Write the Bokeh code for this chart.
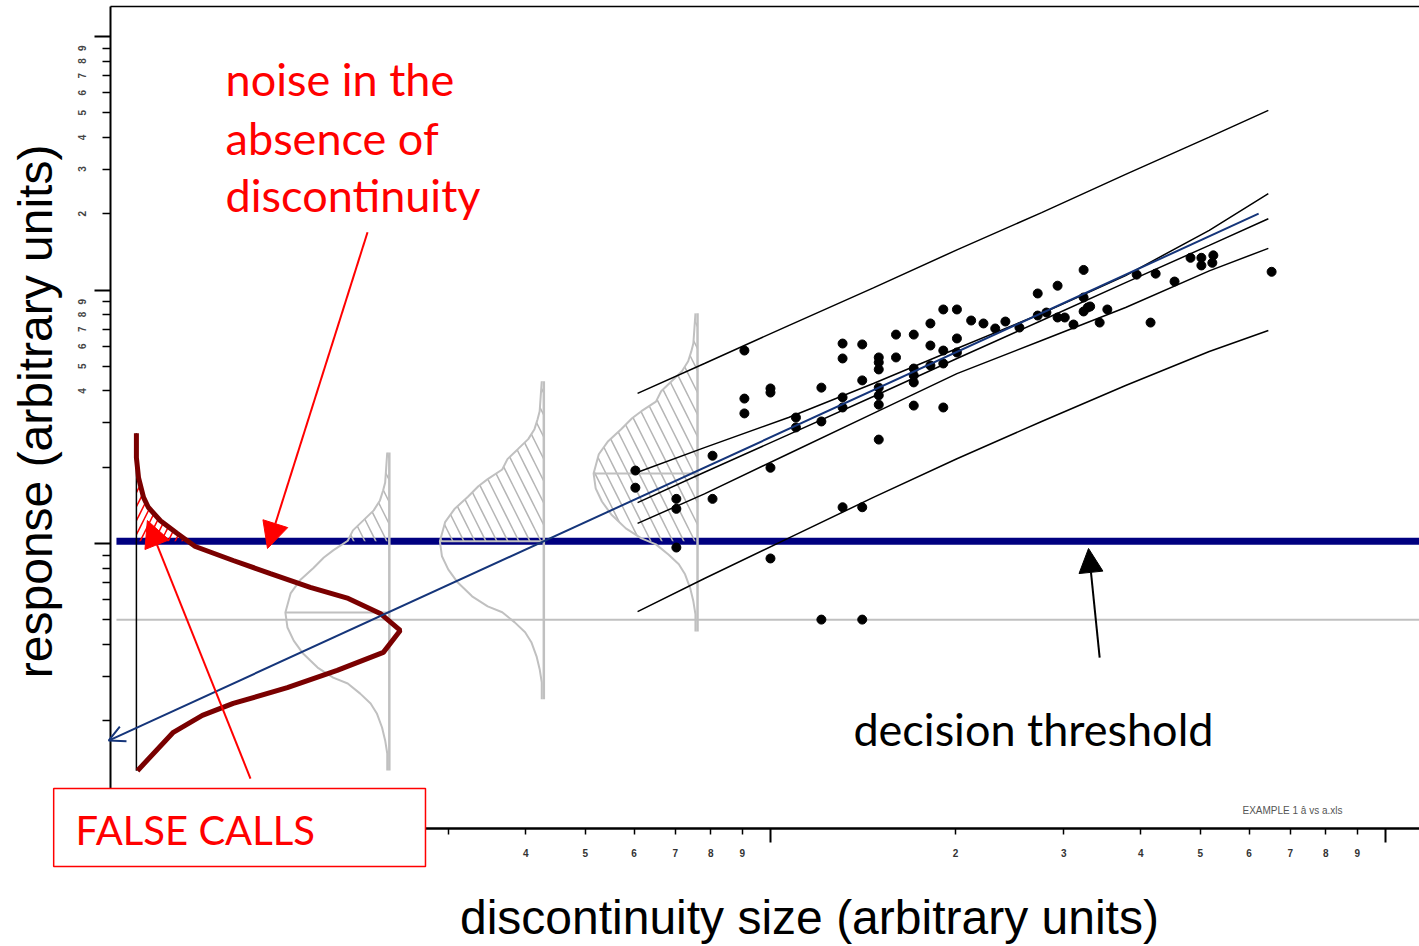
import math
from bokeh.plotting import figure
from bokeh.models import (Range1d, FixedTicker, Label, Arrow, OpenHead,
                          NormalHead, BoxAnnotation, LogAxis)
from bokeh.embed import file_html
from bokeh.resources import INLINE

# ---------------- data ----------------
# â vs a measurements: discontinuity size vs response
pod_size = [0.907, 0.907, 0.907, 1.00, 1.00, 1.21, 1.31, 1.41, 1.31, 1.50, 1.50, 1.50,
            1.60, 1.71, 1.60, 1.82, 1.91, 2.01, 2.12, 2.22, 2.32, 2.41, 2.54, 2.72,
            2.93, 3.23, 2.72, 2.81, 2.93, 3.01, 3.11, 3.23, 3.23, 3.31, 3.53, 3.43,
            4.15, 3.94, 4.23, 4.54, 4.82, 5.02, 5.23, 6.53, 1.41, 1.50, 1.50, 1.50,
            1.71, 1.71, 1.71, 1.71, 1.91, 1.82, 1.91, 1.82, 2.01, 1.91, 2.01, 1.50,
            1.31, 1.31, 1.21, 1.10, 1.10, 0.805, 1.00, 0.805, 0.703, 0.703, 0.603, 0.603,
            1.31, 1.41, 0.703, 1.00, 1.21, 1.41, 5.02, 5.25, 3.28]
pod_resp = [5.77, 3.73, 3.26, 4.09, 3.94, 4.12, 6.15, 6.10, 5.37, 5.42, 5.18, 4.86,
            6.67, 6.67, 5.42, 7.38, 8.38, 8.38, 7.58, 7.38, 7.05, 7.51, 7.11, 9.69,
            10.4, 12.0, 7.93, 8.15, 7.79, 7.79, 7.31, 9.34, 8.23, 8.61, 8.38, 7.44,
            7.44, 11.5, 11.6, 10.8, 13.4, 13.4, 12.8, 11.8, 4.40, 4.12, 3.84, 3.53,
            4.90, 4.60, 4.32, 3.50, 3.44, 6.04, 5.77, 5.04, 6.44, 5.13, 5.67, 2.57,
            3.77, 3.44, 3.03, 3.14, 2.87, 2.22, 1.99, 1.50, 1.50, 1.37, 1.94, 1.66,
            1.39, 1.39, 0.964, 0.873, 0.501, 0.501, 12.5, 13.7, 8.53]

# fitted line with confidence and prediction bounds
band_size = [0.608, 0.781, 1.07, 1.47, 2.01, 2.76, 3.78, 5.17, 6.45]
fit_resp = [1.45, 1.91, 2.69, 3.80, 5.37, 7.58, 10.7, 15.0, 19.1]
conf_upper = [1.91, 2.39, 3.14, 4.28, 5.88, 8.08, 11.4, 17.2, 24.0]
conf_lower = [1.20, 1.57, 2.26, 3.26, 4.68, 6.32, 8.53, 11.9, 14.6]
pred_upper = [3.91, 5.13, 7.24, 10.2, 14.4, 20.2, 28.6, 40.1, 51.1]
pred_lower = [0.539, 0.728, 1.05, 1.52, 2.16, 3.03, 4.20, 5.72, 6.92]

# extrapolated â vs a line (drawn as an arrow)
ahat_line_size = [6.22, 0.0839]
ahat_line_resp = [20.0, 0.167]

decision_threshold = 1.02
noise_level = 0.5

# response distributions at three sizes (grey)
dist_size = [0.240, 0.428, 0.761]
dist_mean = [0.534, 1.02, 1.89]
prof_ratio = [4.28, 3.73, 3.26, 3.03, 2.77, 2.53, 2.31, 2.11, 1.92, 1.76, 1.65, 1.50,
              1.34, 1.19, 1.00, 0.873, 0.775, 0.689, 0.607, 0.554, 0.525, 0.479,
              0.438, 0.400, 0.352, 0.313, 0.278, 0.238]
prof_density = [0.02, 0.03, 0.04, 0.06, 0.09, 0.15, 0.25, 0.35, 0.40, 0.54, 0.63, 0.73,
                0.86, 0.95, 1.00, 0.98, 0.92, 0.83, 0.69, 0.54, 0.40, 0.28, 0.18,
                0.12, 0.07, 0.04, 0.02, 0.02]

# noise distribution (no discontinuity)
noise_size = 0.0931
noise_resp = [2.72, 2.18, 1.82, 1.52, 1.39, 1.23, 1.095, 0.973, 0.857, 0.761, 0.671,
              0.607, 0.530, 0.454, 0.372, 0.316, 0.270, 0.234, 0.210, 0.180, 0.127]
noise_density = [0.0, 0.0, 0.008, 0.027, 0.045, 0.091, 0.155, 0.223, 0.367, 0.508,
                 0.659, 0.803, 0.924, 1.0, 0.936, 0.761, 0.572, 0.367, 0.25, 0.14, 0.004]

# axes ticks
x_major = [0.1, 1, 10]
x_minor = [0.2, 0.3, 0.4, 0.5, 0.6, 0.7, 0.8, 0.9, 2, 3, 4, 5, 6, 7, 8, 9]
x_tick_label_vals = [0.4, 0.5, 0.6, 0.7, 0.8, 0.9, 2, 3, 4, 5, 6, 7, 8, 9]
x_tick_label_txt = ["4", "5", "6", "7", "8", "9", "2", "3", "4", "5", "6", "7", "8", "9"]
y_major = [0.1, 1, 10, 100]
y_minor = [0.2, 0.3, 0.4, 0.5, 0.6, 0.7, 0.8, 0.9, 2, 3, 4, 5, 6, 7, 8, 9,
           20, 30, 40, 50, 60, 70, 80, 90]
y_tick_label_vals = [20, 30, 40, 50, 60, 70, 80, 90, 4, 5, 6, 7, 8, 9]
y_tick_label_txt = ["2", "3", "4", "5", "6", "7", "8", "9", "4", "5", "6", "7", "8", "9"]

# ---------------- layout / styles ----------------
X_LO, X_HI = 0.05597, 11.360          # whole canvas in data units
Y_LO, Y_HI = 0.02572, 138.7
AX_X0, AX_X1 = 0.08449, 11.360        # plotting box
AX_Y0, AX_Y1 = 0.07513, 131.3
DIST_AMP = 0.169    # decades of x per unit density (grey)
NOISE_AMP = 0.429   # decades of x per unit density (noise)
LINE_START = 0.0864
GREY = "#c0c0c0"
NAVY = "#000080"
FITBLUE = "#15357a"
MAROON = "#7a0000"
ANN_FONT = "Lato"
TITLE_FONT = "Liberation Sans"

p = figure(width=1419, height=946, x_axis_type="log", y_axis_type="log",
           x_axis_location=None, y_axis_location=None,
           x_range=Range1d(X_LO, X_HI), y_range=Range1d(Y_LO, Y_HI),
           output_backend="svg", toolbar_location=None,
           min_border_left=0, min_border_right=0, min_border_top=0,
           min_border_bottom=0)
p.title.visible = False
p.outline_line_color = None
p.xgrid.visible = False
p.ygrid.visible = False
p.background_fill_color = "white"
p.border_fill_color = "white"

xa = LogAxis(fixed_location=AX_Y0, bounds=(AX_X0, AX_X1),
             ticker=FixedTicker(ticks=x_major, minor_ticks=x_minor))
xa.axis_line_width = 2.5
xa.major_tick_out = 14
xa.major_tick_in = 0
xa.minor_tick_out = 6
xa.minor_tick_in = 0
xa.major_tick_line_width = 2
xa.minor_tick_line_width = 1.5
xa.major_label_text_color = None
xa.major_label_text_font_size = "0px"
p.add_layout(xa, "below")

ya = LogAxis(fixed_location=AX_X0, bounds=(AX_Y0, AX_Y1),
             ticker=FixedTicker(ticks=y_major, minor_ticks=y_minor))
ya.axis_line_width = 2
ya.major_tick_out = 16
ya.major_tick_in = 0
ya.minor_tick_out = 8
ya.minor_tick_in = 0
ya.major_tick_line_width = 2
ya.minor_tick_line_width = 1.5
ya.major_label_text_color = None
ya.major_label_text_font_size = "0px"
p.add_layout(ya, "left")

ta = LogAxis(fixed_location=AX_Y1, bounds=(AX_X0, AX_X1), ticker=FixedTicker(ticks=[]))
ta.axis_line_width = 1.5
ta.major_label_text_color = None
ta.major_label_text_font_size = "0px"
p.add_layout(ta, "above")

# noise mean level and decision threshold
p.line([LINE_START, AX_X1], [noise_level, noise_level], line_color=GREY, line_width=2)
p.line([LINE_START, AX_X1], [decision_threshold, decision_threshold],
       line_color=NAVY, line_width=7)


def above_threshold_polygon(xc, ys, xs):
    px, py = [xc], [ys[0]]
    for i in range(len(ys)):
        if ys[i] >= decision_threshold:
            px.append(xs[i])
            py.append(ys[i])
        else:
            l0, l1 = math.log10(ys[i - 1]), math.log10(ys[i])
            f = (l0 - math.log10(decision_threshold)) / (l0 - l1)
            lx = math.log10(xs[i - 1]) + f * (math.log10(xs[i]) - math.log10(xs[i - 1]))
            px.append(10 ** lx)
            py.append(decision_threshold)
            break
    px.append(xc)
    py.append(decision_threshold)
    return px, py


# grey response distributions
for xc, mu in zip(dist_size, dist_mean):
    ys = [mu * r for r in prof_ratio]
    xs = [xc * 10 ** (-DIST_AMP * d) for d in prof_density]
    hx, hy = above_threshold_polygon(xc, ys, xs)
    p.patch(hx, hy, fill_alpha=0, line_color=None, hatch_pattern="\\",
            hatch_color="#b5b5b5", hatch_scale=22, hatch_weight=1.5)
    p.line(xs, ys, line_color=GREY, line_width=2)
    p.line([xc, xc], [ys[0], ys[-1]], line_color=GREY, line_width=2.5)
    p.line([xc * 10 ** (-DIST_AMP), xc], [mu, mu], line_color=GREY, line_width=2)

# fit and bounds
for band in (pred_upper, conf_upper, fit_resp, conf_lower, pred_lower):
    p.line(band_size, band, line_color="black", line_width=1.5)

p.scatter(pod_size, pod_resp, size=9, marker="circle", color="black")

# noise distribution
nxs = [noise_size * 10 ** (NOISE_AMP * d) for d in noise_density]
rx, ry = above_threshold_polygon(noise_size, noise_resp, nxs)
p.patch(rx, ry, fill_alpha=0, line_color=None, hatch_pattern="/",
        hatch_color="red", hatch_scale=14, hatch_weight=1.5)
p.line([noise_size, noise_size], [noise_resp[0], noise_resp[-1]],
       line_color="black", line_width=1.5)
p.line(nxs, noise_resp, line_color=MAROON, line_width=5)

# extrapolated line
p.add_layout(Arrow(x_start=ahat_line_size[0], y_start=ahat_line_resp[0],
                   x_end=ahat_line_size[1], y_end=ahat_line_resp[1],
                   line_color=FITBLUE, line_width=2,
                   end=OpenHead(size=16, line_color=FITBLUE, line_width=2)))

# annotations
p.add_layout(Arrow(x_start=0.2212, y_start=16.9, x_end=0.1521, y_end=0.956,
                   line_color="red", line_width=2,
                   end=NormalHead(size=26, fill_color="red", line_color="red")))
p.add_layout(Arrow(x_start=0.1427, y_start=0.1183, x_end=0.0970, y_end=1.232,
                   line_color="red", line_width=2,
                   end=NormalHead(size=26, fill_color="red", line_color="red")))
p.add_layout(Arrow(x_start=3.43, y_start=0.355, x_end=3.29, y_end=0.956,
                   line_color="black", line_width=2,
                   end=NormalHead(size=24, fill_color="black", line_color="black")))

for txt, yv in zip(["noise in the", "absence of", "discontinuity"], [67.7, 39.96, 23.6]):
    p.add_layout(Label(x=0.1300, y=yv, text=txt, text_font=ANN_FONT,
                       text_font_size="45px", text_color="red",
                       text_baseline="alphabetic", text_align="left"))

p.add_layout(Label(x=1.364, y=0.1863, text="decision threshold", text_font=ANN_FONT,
                   text_font_size="45px", text_color="black",
                   text_baseline="alphabetic", text_align="left"))

p.add_layout(BoxAnnotation(left=0.0683, right=0.2748, bottom=0.0532, top=0.1080,
                           fill_color="white", fill_alpha=1.0,
                           line_color="red", line_alpha=1.0, line_width=1.5))
p.add_layout(Label(x=0.0741, y=0.07378, text="FALSE CALLS", text_font=ANN_FONT,
                   text_font_size="40px", text_color="red",
                   text_baseline="alphabetic", text_align="left"))

p.add_layout(Label(x=5.855, y=0.0885, text="EXAMPLE 1 â vs a.xls",
                   text_font="Liberation Sans", text_font_size="10px",
                   text_color="#555555", text_baseline="middle", text_align="left"))

# tick labels
for v, t in zip(x_tick_label_vals, x_tick_label_txt):
    p.add_layout(Label(x=v, y=0.0604, text=t, text_font="Liberation Sans",
                       text_font_size="10px", text_font_style="bold",
                       text_color="#333333",
                       text_baseline="middle", text_align="center"))
for v, t in zip(y_tick_label_vals, y_tick_label_txt):
    p.add_layout(Label(x=0.0758, y=v, text=t, text_font="Liberation Sans",
                       text_font_size="10px", text_font_style="bold",
                       text_color="#444444", angle=math.pi / 2,
                       text_baseline="middle", text_align="center"))

# axis titles
p.add_layout(Label(x=1.157, y=0.03362, text="discontinuity size (arbitrary units)",
                   text_font=TITLE_FONT, text_font_size="48px", text_color="black",
                   text_baseline="alphabetic", text_align="center"))
p.add_layout(Label(x=0.06391, y=3.32, text="response (arbitrary units)",
                   text_font=TITLE_FONT, text_font_size="48px", text_color="black",
                   angle=math.pi / 2, text_baseline="alphabetic", text_align="center"))

open("out.html", "w").write(file_html(p, INLINE))
